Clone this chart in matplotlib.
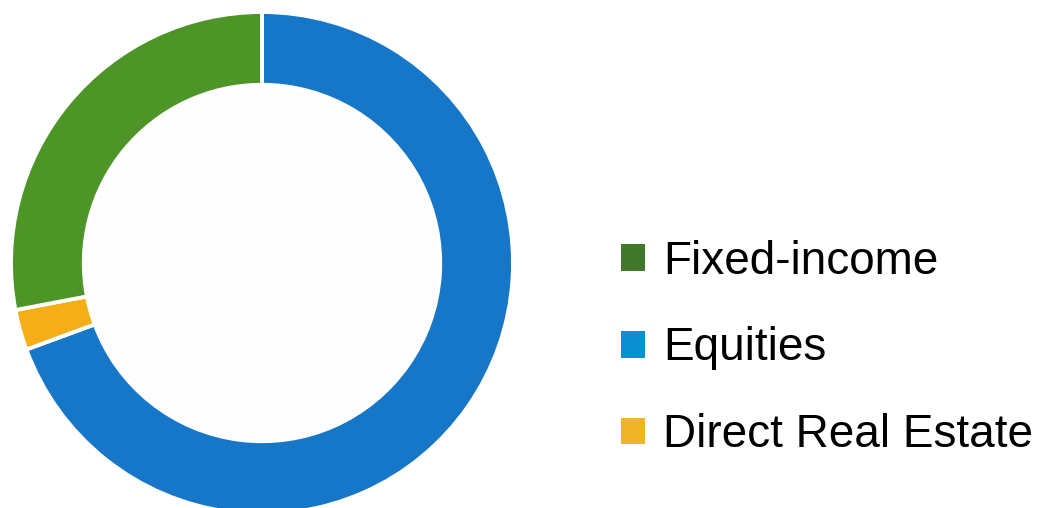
import matplotlib.pyplot as plt
from matplotlib.patches import Patch

plt.rcParams['font.family'] = ['Liberation Sans', 'DejaVu Sans']

# data, clockwise from 12 o'clock
labels = ['Equities', 'Direct Real Estate', 'Fixed-income']
values = [69.4, 2.6, 28.0]
pie_colors = ['#1677c8', '#f5ae17', '#4e9528']

# legend order and swatch colours
legend_labels = ['Fixed-income', 'Equities', 'Direct Real Estate']
legend_colors = ['#41782a', '#0a8fd0', '#f0b428']

W, H = 1044, 508
fig = plt.figure(figsize=(W/100, H/100), dpi=100)

cx, cy, r = 262, 245, 251   # pixels, cy from bottom
ax = fig.add_axes([(cx - r)/W, (cy - r)/H, 2*r/W, 2*r/H])
ax.pie(values, colors=pie_colors, startangle=90, counterclock=False,
       radius=1.0,
       wedgeprops=dict(width=0.29, edgecolor='white', linewidth=2.8))
ax.set_xlim(-1, 1)
ax.set_ylim(-1, 1)
ax.add_patch(plt.Circle((0, 0), 0.70, color='#fdfdfd', zorder=0))

handles = [Patch(facecolor=c, edgecolor='none') for c in legend_colors]
fig.legend(handles, legend_labels, loc='center left',
           bbox_to_anchor=(0.595, 0.314), frameon=False, fontsize=33,
           handlelength=0.52, handleheight=0.52, handletextpad=0.4,
           labelspacing=0.93, borderpad=0, borderaxespad=0)

plt.savefig('out.png', dpi=100)
plt.close()
